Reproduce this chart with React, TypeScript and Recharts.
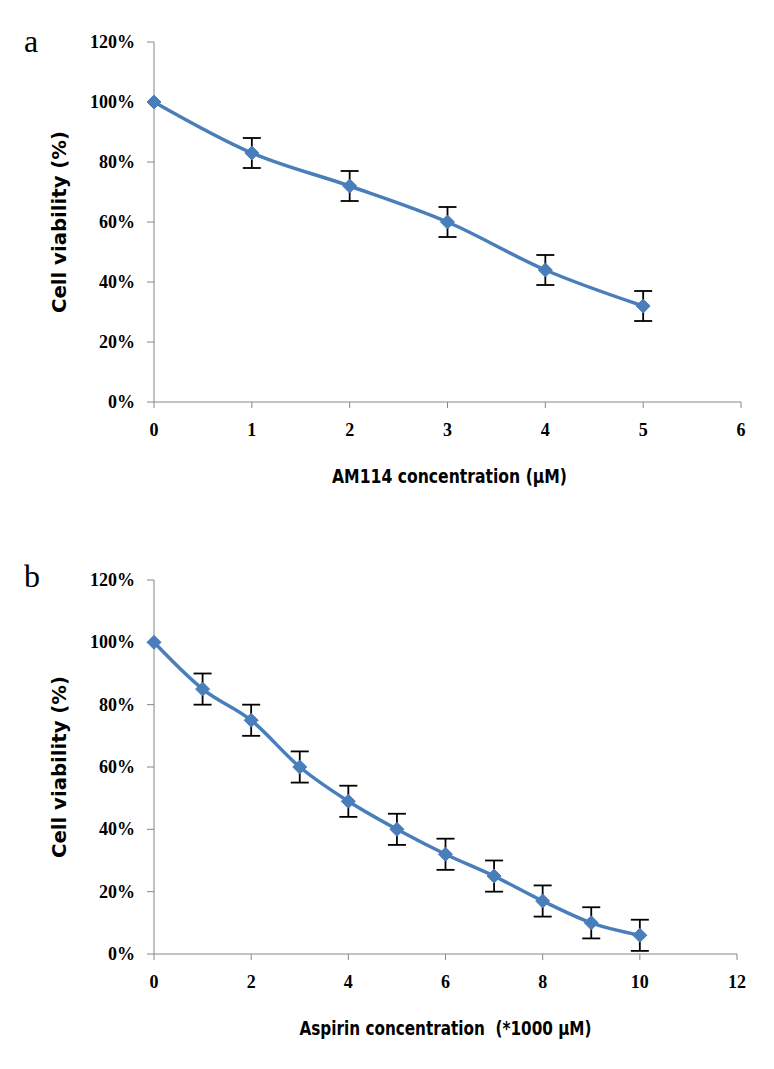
import React from "react";
import { LineChart, Line, XAxis, YAxis, ErrorBar } from "recharts";

// panel a: AM114
const amDoses = [0, 1, 2, 3, 4, 5];
const amViability = [100, 83, 72, 60, 44, 32];
const amError = [0, 5, 5, 5, 5, 5];
const amXTicks = [0, 1, 2, 3, 4, 5, 6];

// panel b: aspirin
const aspDoses = [0, 1, 2, 3, 4, 5, 6, 7, 8, 9, 10];
const aspViability = [100, 85, 75, 60, 49, 40, 32, 25, 17, 10, 6];
const aspError = [0, 5, 5, 5, 5, 5, 5, 5, 5, 5, 5];
const aspXTicks = [0, 2, 4, 6, 8, 10, 12];

const yTicks = [0, 20, 40, 60, 80, 100, 120];

const LINE = "#4A7EBB";
const AXIS = "#868686";
const SERIF = "'Liberation Serif', 'Times New Roman', serif";
const NARROW = "'Liberation Sans Narrow', 'DejaVu Sans Condensed', 'Arial Narrow', sans-serif";

function Diamond(props: any) {
  const { cx, cy, index } = props;
  if (cx == null || cy == null) return <g key={index} />;
  const r = 7;
  return (
    <polygon
      key={index}
      points={`${cx},${cy - r} ${cx + r},${cy} ${cx},${cy + r} ${cx - r},${cy}`}
      fill={LINE}
      stroke={LINE}
    />
  );
}

function XTick(props: any) {
  const { x, y, payload } = props;
  return (
    <text x={x} y={y + 26} textAnchor="middle" fontSize={18} fontFamily={SERIF} fontWeight={700} fill="#000">
      {payload.value}
    </text>
  );
}

function YTick(props: any) {
  const { x, y, payload } = props;
  return (
    <text x={x - 10} y={y + 6} textAnchor="end" fontSize={18} fontFamily={SERIF} fontWeight={700} fill="#000">
      {`${payload.value}%`}
    </text>
  );
}

function AxisTitle({ viewBox, text, len, dx = 0, dy = 0, vertical = false }: any) {
  const { x, y, width, height } = viewBox;
  const common = {
    fontSize: 19,
    fontFamily: NARROW,
    fontWeight: 700,
    fill: "#000",
    textAnchor: "middle" as const,
    textLength: len,
    lengthAdjust: "spacingAndGlyphs",
  };
  if (vertical) {
    const cx = x + dx;
    const cy = y + height / 2 + dy;
    return (
      <text x={cx} y={cy} transform={`rotate(-90 ${cx} ${cy})`} {...common}>
        {text}
      </text>
    );
  }
  return (
    <text x={x + width / 2 + dx} y={y + dy} {...common}>
      {text}
    </text>
  );
}

interface PanelProps {
  doses: number[];
  values: number[];
  errors: number[];
  xTicks: number[];
  xMax: number;
  xTitle: string;
  xTitleLen: number;
  xTitleDx: number;
  width: number;
  height: number;
  margin: { top: number; right: number; bottom: number; left: number };
  xAxisHeight: number;
}

function Panel(p: PanelProps) {
  const data = p.doses.map((d, i) => ({ dose: d, viability: p.values[i], err: p.errors[i] }));
  return (
    <LineChart width={p.width} height={p.height} data={data} margin={p.margin}>
      <XAxis
        type="number"
        dataKey="dose"
        domain={[0, p.xMax]}
        ticks={p.xTicks}
        interval={0}
        stroke={AXIS}
        tickSize={6}
        tick={XTick}
        height={p.xAxisHeight}
        label={(lp: any) => (
          <AxisTitle viewBox={lp.viewBox} text={p.xTitle} len={p.xTitleLen} dx={p.xTitleDx} dy={81} />
        )}
      />
      <YAxis
        type="number"
        domain={[0, 120]}
        ticks={yTicks}
        interval={0}
        stroke={AXIS}
        tickSize={7}
        tick={YTick}
        width={94}
        label={(lp: any) => (
          <AxisTitle viewBox={lp.viewBox} text="Cell viability (%)" len={182} dx={6} vertical />
        )}
      />
      <Line
        type="monotone"
        dataKey="viability"
        stroke={LINE}
        strokeWidth={3.5}
        dot={Diamond}
        activeDot={false}
        isAnimationActive={false}
      >
        <ErrorBar dataKey="err" width={9} strokeWidth={1.8} stroke="#000" direction="y" />
      </Line>
    </LineChart>
  );
}

const letterStyle: React.CSSProperties = {
  position: "absolute",
  fontFamily: SERIF,
  fontSize: 32,
  lineHeight: "32px",
  color: "#000",
};

export default function App() {
  return (
    <div style={{ position: "absolute", top: 0, left: 0, width: 774, height: 1069, background: "#fff" }}>
      <div style={{ ...letterStyle, left: 24, top: 25 }}>a</div>
      <div style={{ ...letterStyle, left: 24, top: 560 }}>b</div>
      <div style={{ position: "absolute", top: 0, left: 0 }}>
        <Panel
          doses={amDoses}
          values={amViability}
          errors={amError}
          xTicks={amXTicks}
          xMax={6}
          xTitle="AM114 concentration (μM)"
          xTitleLen={235}
          xTitleDx={2}
          width={774}
          height={500}
          margin={{ top: 42, right: 33, bottom: 8, left: 60 }}
          xAxisHeight={90}
        />
      </div>
      <div style={{ position: "absolute", top: 520, left: 0 }}>
        <Panel
          doses={aspDoses}
          values={aspViability}
          errors={aspError}
          xTicks={aspXTicks}
          xMax={12}
          xTitle={"Aspirin concentration \u00A0(*1000 μM)"}
          xTitleLen={292}
          xTitleDx={0}
          width={774}
          height={549}
          margin={{ top: 60, right: 37, bottom: 15, left: 60 }}
          xAxisHeight={100}
        />
      </div>
    </div>
  );
}
